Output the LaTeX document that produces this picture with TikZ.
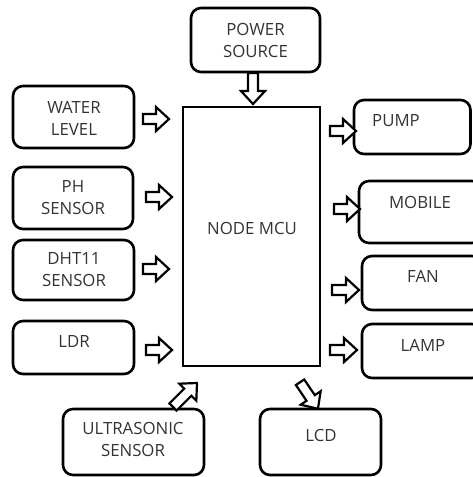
\documentclass[tikz,border=0pt]{standalone}
\usepackage{fontspec}
\setmainfont{Open Sans}
\begin{document}
\begin{tikzpicture}[x=1pt,y=-1pt,
  box/.style={draw, line width=2.6pt, rounded corners=10pt},
  mcubox/.style={draw, line width=2.6pt},
  txt/.style={font=\fontsize{16.8}{22}\selectfont, align=center, inner sep=0pt, text=black!80},
  arrowline/.style={draw, line width=2.2pt, line join=miter, fill=white},
  pics/barrow/.style={code={\path[arrowline] (-#1/2,-5) -- (#1/2-13,-5) -- (#1/2-13,-12) -- (#1/2,0) -- (#1/2-13,12) -- (#1/2-13,5) -- (-#1/2,5) -- cycle;}}
]
\useasboundingbox (0,0) rectangle (473,477);
% boxes
\draw[box] (191,8) rectangle (320,72);
\draw[box] (13,86) rectangle (134,148);
\draw[box] (13,167) rectangle (133,229);
\draw[box] (13,240) rectangle (134,300);
\draw[box] (13,321) rectangle (134,374);
\draw[box] (63,409) rectangle (204,475);
\draw[mcubox] (183,107) rectangle (320,366);
\draw[box] (354,100) rectangle (470.5,154);
\draw[box] (359,181) rectangle (482,243);
\draw[box] (362,256) rectangle (482,310);
\draw[box] (362,324) rectangle (482,378);
\draw[box] (260,409) rectangle (381,475);
% texts
\node[txt] (tpower) at (255.5,40) {POWER\\SOURCE};
\node[txt] (twater) at (74,118) {WATER\\LEVEL};
\node[txt] (tph) at (73,198) {PH\\SENSOR};
\node[txt] (tdht) at (74,270) {DHT11\\SENSOR};
\node[txt] (tldr) at (74,341) {LDR};
\node[txt] (tultra) at (133,439.5) {ULTRASONIC\\SENSOR};
\node[txt] (tmcu) at (252,228) {NODE MCU};
\node[txt] (tpump) at (396,121) {PUMP};
\node[txt] (tmobile) at (420,202) {MOBILE};
\node[txt] (tfan) at (423,276) {FAN};
\node[txt] (tlamp) at (423,345) {LAMP};
\node[txt] (tlcd) at (321,435) {LCD};
% block arrows
\pic at (156,119) {barrow=26};
\pic at (159,197) {barrow=26};
\pic at (156,269) {barrow=26};
\pic at (159,350) {barrow=26};
\pic at (343,131) {barrow=26};
\pic at (347,209) {barrow=26};
\pic at (345.5,290) {barrow=27};
\pic at (343.5,350) {barrow=27};
\pic[rotate=-90] at (253,88.5) {barrow=31};
\pic[rotate=45] at (185,395) {barrow=34};
\pic[rotate=-56] at (309,395.5) {barrow=32};
\end{tikzpicture}
\end{document}
